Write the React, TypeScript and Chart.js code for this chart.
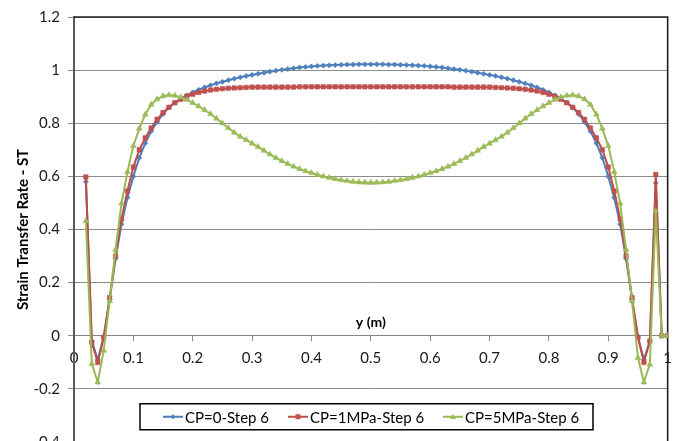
import React, { useEffect, useRef } from 'react';
import { Chart, registerables } from 'chart.js';

Chart.register(...registerables);

const xValues = [
  0.02, 0.03, 0.04, 0.05, 0.06, 0.07, 0.08, 0.09, 0.10,
  0.11, 0.12, 0.13, 0.14, 0.15, 0.16, 0.17, 0.18, 0.19, 0.20,
  0.21, 0.22, 0.23, 0.24, 0.25, 0.26, 0.27, 0.28, 0.29, 0.30,
  0.31, 0.32, 0.33, 0.34, 0.35, 0.36, 0.37, 0.38, 0.39, 0.40,
  0.41, 0.42, 0.43, 0.44, 0.45, 0.46, 0.47, 0.48, 0.49, 0.50,
  0.51, 0.52, 0.53, 0.54, 0.55, 0.56, 0.57, 0.58, 0.59, 0.60,
  0.61, 0.62, 0.63, 0.64, 0.65, 0.66, 0.67, 0.68, 0.69, 0.70,
  0.71, 0.72, 0.73, 0.74, 0.75, 0.76, 0.77, 0.78, 0.79, 0.80,
  0.81, 0.82, 0.83, 0.84, 0.85, 0.86, 0.87, 0.88, 0.89, 0.90,
  0.91, 0.92, 0.93, 0.94, 0.95, 0.96, 0.97, 0.98, 0.99, 1.00,
];

const cp0Step6 = [
  0.58, -0.02, -0.09, -0.005, 0.135, 0.29, 0.42, 0.52, 0.60,
  0.67, 0.725, 0.77, 0.805, 0.835, 0.86, 0.878, 0.893, 0.905, 0.916,
  0.926, 0.935, 0.943, 0.950, 0.956, 0.962, 0.968, 0.973, 0.978, 0.982,
  0.986, 0.990, 0.994, 0.998, 1.001, 1.004, 1.007, 1.010, 1.012, 1.014,
  1.016, 1.017, 1.018, 1.019, 1.020, 1.021, 1.021, 1.022, 1.022, 1.022,
  1.022, 1.022, 1.021, 1.021, 1.020, 1.019, 1.018, 1.017, 1.016, 1.014,
  1.012, 1.010, 1.007, 1.004, 1.001, 0.998, 0.994, 0.990, 0.986, 0.982,
  0.978, 0.973, 0.968, 0.962, 0.956, 0.950, 0.943, 0.935, 0.926, 0.916,
  0.905, 0.893, 0.878, 0.86, 0.835, 0.805, 0.77, 0.725, 0.67, 0.60,
  0.52, 0.42, 0.29, 0.135, -0.005, -0.09, -0.02, 0.575, 0, 0,
];

const cp1Step6 = [
  0.598, -0.025, -0.10, -0.006, 0.143, 0.30, 0.44, 0.545, 0.635,
  0.70, 0.745, 0.782, 0.815, 0.840, 0.860, 0.877, 0.890, 0.901, 0.909,
  0.916, 0.921, 0.925, 0.928, 0.930, 0.932, 0.933, 0.934, 0.935, 0.936,
  0.936, 0.936, 0.936, 0.936, 0.936, 0.936, 0.936, 0.937, 0.937, 0.937,
  0.937, 0.937, 0.937, 0.937, 0.937, 0.937, 0.937, 0.937, 0.937, 0.937,
  0.937, 0.937, 0.937, 0.937, 0.937, 0.937, 0.937, 0.937, 0.937, 0.937,
  0.937, 0.937, 0.937, 0.936, 0.936, 0.936, 0.936, 0.936, 0.936, 0.936,
  0.935, 0.934, 0.933, 0.932, 0.930, 0.928, 0.925, 0.921, 0.916, 0.909,
  0.901, 0.890, 0.877, 0.860, 0.840, 0.815, 0.782, 0.745, 0.70, 0.635,
  0.545, 0.44, 0.30, 0.143, -0.006, -0.10, -0.02, 0.607, 0, 0,
];

const cp5Step6 = [
  0.432, -0.106, -0.175, -0.056, 0.131, 0.324, 0.498, 0.617, 0.715,
  0.78, 0.833, 0.87, 0.891, 0.902, 0.906, 0.904, 0.898, 0.889, 0.877,
  0.864, 0.85, 0.835, 0.818, 0.80, 0.782, 0.765, 0.75, 0.737, 0.724,
  0.711, 0.697, 0.683, 0.670, 0.658, 0.647, 0.637, 0.628, 0.620, 0.613,
  0.606, 0.600, 0.595, 0.590, 0.586, 0.583, 0.580, 0.578, 0.577, 0.576,
  0.577, 0.578, 0.580, 0.583, 0.586, 0.590, 0.595, 0.600, 0.606, 0.613,
  0.620, 0.628, 0.637, 0.647, 0.658, 0.670, 0.683, 0.697, 0.711, 0.724,
  0.737, 0.75, 0.765, 0.782, 0.80, 0.818, 0.835, 0.85, 0.864, 0.877,
  0.889, 0.898, 0.904, 0.906, 0.902, 0.891, 0.87, 0.833, 0.78, 0.715,
  0.617, 0.498, 0.324, 0.131, -0.083, -0.175, -0.108, 0.47, 0, 0,
];

const seriesNames = ['CP=0-Step 6', 'CP=1MPa-Step 6', 'CP=5MPa-Step 6'];
const xTickValues = [0, 0.1, 0.2, 0.3, 0.4, 0.5, 0.6, 0.7, 0.8, 0.9, 1];
const yTickValues = [-0.4, -0.2, 0, 0.2, 0.4, 0.6, 0.8, 1, 1.2];
const xTitle = 'y (m)';
const yTitle = 'Strain Transfer Rate - ST';

const FONT = 'Lato, "Open Sans", sans-serif';
const lineColors = ['#4A7EBB', '#BE4B48', '#98B954'];
const markerColors = ['#4F81BD', '#C0504D', '#9BBB59'];
const pointStyles = ['rectRot', 'rect', 'triangle'];
const pointRadii = [2.6, 3.2, 3.4];
// legend sample start offsets (relative to legend box left)
const legendOffsets = [23, 148, 303];

const fmt = (v: number) => String(Number(Number(v).toFixed(2)));

const decorPlugin = {
  id: 'decor',
  beforeDatasetsDraw(chart: any) {
    const { ctx, chartArea: a } = chart;
    ctx.save();
    ctx.strokeStyle = '#202020';
    ctx.lineWidth = 1.6;
    ctx.beginPath();
    ctx.moveTo(a.left, a.top);
    ctx.lineTo(a.right, a.top);
    ctx.lineTo(a.right, a.bottom);
    ctx.stroke();
    const y0 = chart.scales.y.getPixelForValue(0);
    ctx.fillStyle = '#000';
    ctx.font = `bold 14px ${FONT}`;
    ctx.textAlign = 'center';
    ctx.textBaseline = 'middle';
    ctx.fillText(xTitle, (a.left + a.right) / 2, y0 - 13);
    ctx.font = `bold 15px ${FONT}`;
    ctx.translate(23, (a.top + a.bottom) / 2);
    ctx.rotate(-Math.PI / 2);
    ctx.fillText(yTitle, 0, 0);
    ctx.restore();
  },
  afterDraw(chart: any) {
    const { ctx, chartArea: a } = chart;
    const y0 = chart.scales.y.getPixelForValue(0);
    const bx = a.left + 66;
    const by = y0 + 68;
    const bw = 453;
    const bh = 26;
    ctx.save();
    ctx.fillStyle = '#fff';
    ctx.fillRect(bx, by, bw, bh);
    ctx.strokeStyle = '#000';
    ctx.lineWidth = 1.5;
    ctx.strokeRect(bx, by, bw, bh);
    const cy = by + bh / 2;
    seriesNames.forEach((name, i) => {
      const sx = bx + legendOffsets[i];
      ctx.strokeStyle = lineColors[i];
      ctx.lineWidth = 2;
      ctx.beginPath();
      ctx.moveTo(sx, cy);
      ctx.lineTo(sx + 20, cy);
      ctx.stroke();
      ctx.fillStyle = markerColors[i];
      const mx = sx + 10;
      ctx.beginPath();
      if (i === 0) {
        ctx.moveTo(mx, cy - 2.6);
        ctx.lineTo(mx + 2.6, cy);
        ctx.lineTo(mx, cy + 2.6);
        ctx.lineTo(mx - 2.6, cy);
      } else if (i === 1) {
        ctx.rect(mx - 2.5, cy - 2.5, 5, 5);
      } else {
        ctx.moveTo(mx, cy - 3);
        ctx.lineTo(mx + 3, cy + 2.2);
        ctx.lineTo(mx - 3, cy + 2.2);
      }
      ctx.closePath();
      ctx.fill();
      ctx.fillStyle = '#000';
      ctx.font = `15px ${FONT}`;
      ctx.textAlign = 'left';
      ctx.textBaseline = 'middle';
      ctx.fillText(name, sx + 22, cy + 1);
    });
    ctx.restore();
  },
};

export default function App() {
  const ref = useRef<HTMLCanvasElement | null>(null);

  useEffect(() => {
    const canvas = ref.current;
    if (!canvas) return;
    const series = [cp0Step6, cp1Step6, cp5Step6];
    const chart = new Chart(canvas, {
      type: 'line',
      data: {
        datasets: series.map((vals, i) => ({
          label: seriesNames[i],
          data: xValues.map((x, j) => ({ x, y: vals[j] })),
          borderColor: lineColors[i],
          backgroundColor: markerColors[i],
          borderWidth: 2,
          pointStyle: pointStyles[i] as any,
          pointRadius: pointRadii[i],
          pointBorderWidth: 0.5,
          pointBorderColor: markerColors[i],
          pointBackgroundColor: markerColors[i],
          tension: 0,
          fill: false,
          order: 2 - i,
        })),
      },
      options: {
        responsive: false,
        animation: false,
        events: [],
        layout: { padding: { left: 0, right: 7, top: 14, bottom: 18 } },
        plugins: { legend: { display: false }, tooltip: { enabled: false } },
        scales: {
          x: {
            type: 'linear',
            min: 0,
            max: 1,
            position: { y: 0 } as any,
            afterBuildTicks: (s: any) => {
              s.ticks = xTickValues.map((v) => ({ value: v }));
            },
            ticks: {
              autoSkip: false,
              maxRotation: 0,
              padding: 8,
              color: '#1a1a1a',
              font: { family: FONT, size: 15 },
              callback: (v: any) => fmt(v),
            },
            grid: { drawOnChartArea: false, drawTicks: true, tickLength: 5, color: '#868686' },
            border: { display: true, color: '#868686', width: 1 },
          },
          y: {
            type: 'linear',
            min: -0.4,
            max: 1.2,
            afterBuildTicks: (s: any) => {
              s.ticks = yTickValues.map((v) => ({ value: v }));
            },
            afterFit: (s: any) => {
              s.width = 74;
            },
            ticks: {
              padding: 8,
              color: '#1a1a1a',
              font: { family: FONT, size: 15 },
              callback: (v: any) => fmt(v),
            },
            grid: { color: '#8c8c8c', tickLength: 6, lineWidth: 1 },
            border: { display: true, color: '#5a5a5a', width: 2 },
          },
        },
      },
      plugins: [decorPlugin],
    });
    return () => chart.destroy();
  }, []);

  return (
    <div
      style={{
        position: 'fixed',
        left: 0,
        top: 0,
        width: 680,
        height: 441,
        overflow: 'hidden',
        background: '#fff',
      }}
    >
      <canvas ref={ref} width={680} height={460} style={{ display: 'block' }} />
    </div>
  );
}
